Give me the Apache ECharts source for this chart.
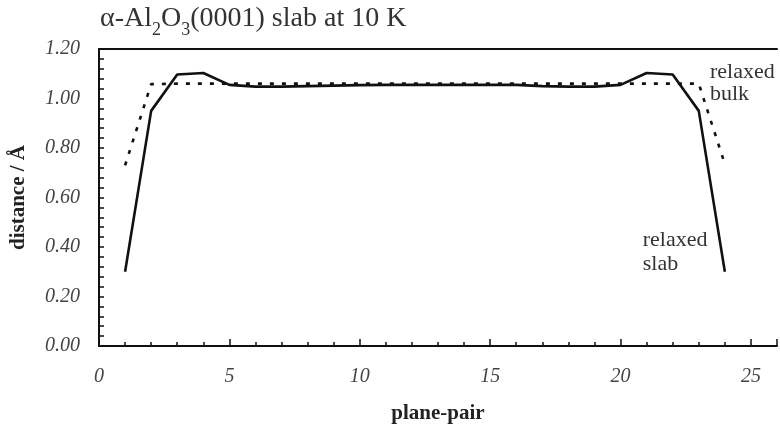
<!DOCTYPE html>
<html><head><meta charset="utf-8">
<script src="https://cdn.jsdelivr.net/npm/echarts@6/dist/echarts.min.js"></script>
<style>html,body{margin:0;padding:0;background:#fff}#c{width:780px;height:429px}</style>
</head><body><div id="c"></div>
<script>
const planePairs = [1,2,3,4,5,6,7,8,9,10,11,12,13,14,15,16,17,18,19,20,21,22,23,24];
const relaxedSlab = [0.30,0.95,1.097,1.103,1.055,1.048,1.048,1.05,1.052,1.054,1.055,1.055,1.055,1.055,1.055,1.055,1.05,1.048,1.048,1.055,1.103,1.097,0.95,0.30];
const relaxedBulk = [0.73,1.058,1.06,1.06,1.06,1.06,1.06,1.06,1.06,1.06,1.06,1.06,1.06,1.06,1.06,1.06,1.06,1.06,1.06,1.06,1.06,1.06,1.06,0.735];
const xTicks = [0,5,10,15,20,25];
const yTicks = ['0.00','0.20','0.40','0.60','0.80','1.00','1.20'];

const serif = '"Liberation Serif","DejaVu Serif",serif';
const chart = echarts.init(document.getElementById('c'));
chart.setOption({
  animation:false,
  title:{
    text:'{a|α-Al}{s|2}{a|O}{s|3}{a|(0001) slab at 10 K}',
    left:95, top:0,
    textStyle:{fontWeight:'normal',rich:{
      a:{fontFamily:serif,fontSize:28,fontWeight:'normal',color:'#333',verticalAlign:'bottom'},
      s:{fontFamily:serif,fontSize:18,fontWeight:'normal',color:'#333',verticalAlign:'bottom',padding:[0,0,-6,0]}
    }}
  },
  grid:{left:99,top:49,width:682,height:302,show:false,containLabel:false},
  xAxis:[{
    type:'value',min:0,max:26,interval:5,
    name:'plane-pair',nameLocation:'middle',nameGap:57,
    nameTextStyle:{fontFamily:serif,fontSize:21,fontWeight:'bold',color:'#222'},
    axisLine:{show:true,onZero:false,lineStyle:{color:'#111',width:2}},
    axisTick:{show:true,inside:true,length:7,lineStyle:{color:'#111',width:1.5}},
    minorTick:{show:true,splitNumber:5,length:4,lineStyle:{color:'#111',width:1.5}},
    splitLine:{show:false},
    axisLabel:{margin:21,fontFamily:serif,fontSize:20,fontStyle:'italic',color:'#444',
      formatter:v=>xTicks.includes(v)?String(v):''}
  },{
    type:'value',min:0,max:26,position:'top',
    axisLine:{show:true,onZero:false,lineStyle:{color:'#111',width:2}},
    axisTick:{show:false},axisLabel:{show:false},splitLine:{show:false}
  }],
  yAxis:{
    type:'value',min:0,max:1.2,interval:0.2,
    name:'distance / Å',nameLocation:'middle',nameGap:70,
    nameTextStyle:{fontFamily:serif,fontSize:21,fontWeight:'bold',color:'#222'},
    axisLine:{show:true,onZero:false,lineStyle:{color:'#111',width:2}},
    axisTick:{show:true,inside:true,length:5,lineStyle:{color:'#111',width:1.5}},
    minorTick:{show:true,splitNumber:5,length:5,lineStyle:{color:'#111',width:1.5}},
    splitLine:{show:false},
    axisLabel:{margin:19,fontFamily:serif,fontSize:20,fontStyle:'italic',color:'#444',
      formatter:v=>yTicks[Math.round(v/0.2)]}
  },
  series:[
    {type:'line',name:'relaxed slab',data:planePairs.map((x,i)=>[x,relaxedSlab[i]]),
     showSymbol:false,lineStyle:{color:'#111',width:2.6},z:3,
     markPoint:{symbol:'circle',symbolSize:0,data:[{coord:[20.85,0.38],
       label:{show:true,position:'right',distance:0,formatter:'relaxed\nslab',
       fontFamily:serif,fontSize:22,color:'#333',lineHeight:24}}]}},
    {type:'line',name:'relaxed bulk',data:planePairs.map((x,i)=>[x,relaxedBulk[i]]),
     showSymbol:false,lineStyle:{color:'#111',width:2.6,type:[4,8]},z:2,
     markPoint:{symbol:'circle',symbolSize:0,data:[{coord:[23.43,1.061],
       label:{show:true,position:'right',distance:0,formatter:'relaxed\nbulk',
       fontFamily:serif,fontSize:22,color:'#333',lineHeight:22}}]}}
  ]
});
</script></body></html>
